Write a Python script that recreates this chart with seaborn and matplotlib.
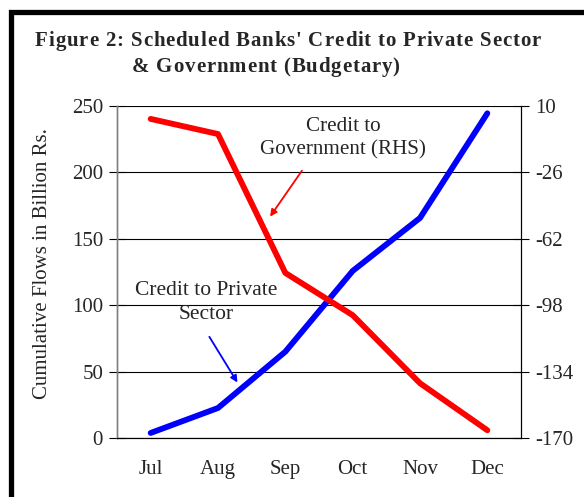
import numpy as np
import pandas as pd
import matplotlib
matplotlib.use("Agg")
import matplotlib.pyplot as plt
import seaborn as sns
from matplotlib.patches import Rectangle
from matplotlib import font_manager
from matplotlib.ft2font import FT2Font

months = ["Jul", "Aug", "Sep", "Oct", "Nov", "Dec"]
private_credit = [3.8, 22.6, 65.0, 125.8, 165.7, 244.5]
government_credit = [3.0, -5.2, -80.5, -103.4, -140.3, -165.8]
left_ticks = [0, 50, 100, 150, 200, 250]
right_ticks = [10, -26, -62, -98, -134, -170]
title_line1 = "Figure 2: Scheduled Banks' Credit to Private Sector"
title_line2 = "& Government (Budgetary)"

sns.set_style("white")
plt.rcParams["font.family"] = ["Liberation Serif", "DejaVu Serif"]
plt.rcParams["axes.unicode_minus"] = False

df = pd.DataFrame({"month": months, "pos": np.arange(len(months)),
                   "private": private_credit, "gov": government_credit})

fig = plt.figure(figsize=(5.84, 4.97), dpi=100)
W, H = 584, 497
ax = fig.add_axes([117 / W, 1 - 438 / H, (521 - 117) / W, (438 - 106) / H])
ax2 = ax.twinx()

sns.lineplot(data=df, x="pos", y="private", ax=ax, color="#0000FF", lw=4.2,
             sort=False, solid_capstyle="round", legend=False)
sns.lineplot(data=df, x="pos", y="gov", ax=ax2, color="#FF0000", lw=4.2,
             sort=False, solid_capstyle="round", legend=False)

ax.set_xlim(-0.5, 5.5)
ax.set_ylim(0, 250)
ax2.set_ylim(-170, 10)
ax.set_yticks(left_ticks)
ax2.set_yticks(right_ticks)
ax.set_xticks(np.arange(-0.5, 6, 1))
ax.set_xticklabels([])
ax.set_xticks(np.arange(6), minor=True)
ax.set_xticklabels(months, minor=True)
ax.tick_params(axis="x", which="minor", length=0, pad=16, labelsize=15)
ax.tick_params(axis="x", which="major", direction="inout", length=12, width=0.8, color="black")
ax.tick_params(axis="y", direction="inout", length=12, width=0.8, labelsize=15, pad=4, color="black")
ax2.tick_params(axis="y", direction="inout", length=12, width=0.8, labelsize=15, pad=4, color="black")
ax.set_xlabel("")
ax2.set_ylabel("")
ax.set_ylabel("Cumulative Flows in Billion Rs.", fontsize=15)
ax.yaxis.set_label_coords(-0.16, 0.524)

ax.grid(axis="y", color="black", lw=0.8)
ax.set_axisbelow(True)
for a in (ax, ax2):
    a.spines["top"].set_visible(False)
    a.spines["left"].set_color("#808080")
    a.spines["right"].set_color("black")
    a.spines["bottom"].set_color("black")
    a.spines["left"].set_linewidth(1.0)
    a.spines["right"].set_linewidth(0.8)
    a.spines["bottom"].set_linewidth(0.8)
ax2.grid(False)

ax.annotate("", xy=(1.75, 165), xytext=(2.27, 203),
            arrowprops=dict(arrowstyle="-|>", color="#FF0000", lw=1.3, mutation_scale=10))
ax.text(2.86, 226, "Credit to\nGovernment (RHS)", ha="center", va="center",
        fontsize=15.2, linespacing=1.3)
ax.annotate("", xy=(1.31, 40), xytext=(0.85, 78),
            arrowprops=dict(arrowstyle="-|>", color="#0000FF", lw=1.3, mutation_scale=10))
ax.text(0.82, 102, "Credit to Private\nSector", ha="center", va="center",
        fontsize=15.5, linespacing=1.3)

# letter-spaced bold title
fp = font_manager.FontProperties(family="Liberation Serif", weight="bold")
fpath = font_manager.findfont(fp)
ft = FT2Font(fpath)
tsize = 15.0
ft.set_size(tsize, 100)


def spaced_text(s, x0, y0, spacing):
    x = x0
    for ch in s:
        fig.text(x / W, 1 - y0 / H, ch, fontsize=tsize, fontweight="bold",
                 ha="left", va="baseline")
        g = ft.load_char(ord(ch))
        x += g.linearHoriAdvance / 65536 + spacing


spaced_text(title_line1, 35, 46, 0.85)
spaced_text(title_line2, 132, 72, 0.85)

fig.add_artist(Rectangle((10.5 / W, -0.1), 1.0, 1 - 11.5 / H + 0.1,
                         transform=fig.transFigure, fill=False, ec="black", lw=3.8,
                         clip_on=False))

fig.savefig("out.png", dpi=100)
